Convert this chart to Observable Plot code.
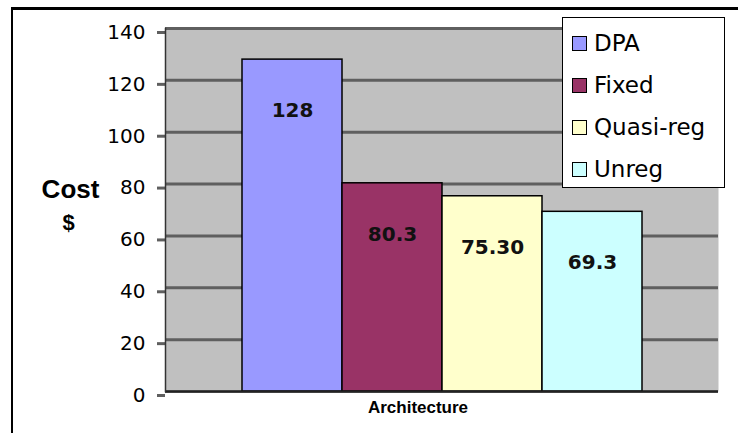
<!DOCTYPE html>
<html>
<head>
<meta charset="utf-8">
<script src="https://cdn.jsdelivr.net/npm/d3@7"></script>
<script src="https://cdn.jsdelivr.net/npm/@observablehq/plot@0.6"></script>
<style>
  html, body { margin: 0; padding: 0; background: #fff; }
  #wrap { position: relative; width: 738px; height: 436px; overflow: hidden; }
  #chart svg { display: block; }
  #legend { position: absolute; left: 562px; top: 17px; width: 163px; height: 171px;
            background: #fff; border: 1.5px solid #000; box-sizing: border-box;
            font-family: "DejaVu Sans", sans-serif; font-size: 23px; color: #000; }
  .item { position: absolute; left: 9px; display: flex; align-items: center; height: 30px; }
  .sw { width: 15px; height: 15px; border: 1.5px solid #000; margin-right: 7px; box-sizing: border-box; }
</style>
</head>
<body>
<div id="wrap">
  <div id="chart"></div>
  <div id="legend"></div>
</div>
<script>
// Cost per architecture
const series = ["DPA", "Fixed", "Quasi-reg", "Unreg"];
const costs = [128, 80.3, 75.30, 69.3];
const costLabels = ["128", "80.3", "75.30", "69.3"];
const palette = ["#9999ff", "#993366", "#ffffcc", "#ccffff"];
const yTicks = [0, 20, 40, 60, 80, 100, 120, 140];

const rows = series.map((s, i) => ({series: s, cost: costs[i], label: costLabels[i]}));

// outer chart-area border: heavy top edge, thin left edge
function chartBorder(index, scales, values, dims) {
  const g = d3.create("svg:g");
  g.append("line").attr("x1", 11).attr("x2", dims.width).attr("y1", 8.5).attr("y2", 8.5)
    .attr("stroke", "#000").attr("stroke-width", 3);
  g.append("line").attr("x1", 12).attr("x2", 12).attr("y1", 7).attr("y2", dims.height - 3)
    .attr("stroke", "#000").attr("stroke-width", 2);
  return g.node();
}

const chart = Plot.plot({
  width: 738,
  height: 436,
  marginTop: 28,
  marginBottom: 45,
  marginLeft: 165,
  marginRight: 20,
  style: {fontFamily: "DejaVu Sans, sans-serif", fontSize: "20px", background: "#fff", color: "#000"},
  x: {domain: series, paddingInner: 0, paddingOuter: 0.76, axis: null},
  y: {domain: [0, 140], axis: null},
  color: {domain: series, range: palette},
  marks: [
    chartBorder,
    Plot.frame({fill: "#c0c0c0"}),
    Plot.gridY(yTicks, {stroke: "#5f5f5f", strokeOpacity: 1, strokeWidth: 3}),
    Plot.axisY(yTicks, {tickSize: 8, tickPadding: 12, stroke: "#5f5f5f", strokeWidth: 3, fill: "#000", dy: 4, label: null}),
    Plot.barY(rows, {x: "series", y: "cost", fill: "series", stroke: "#000", strokeWidth: 1.5}),
    Plot.text(rows, {x: "series", y: "cost", text: "label", dy: 51, fontWeight: "bold", fontSize: 20, fill: "#111"}),
    Plot.ruleY([0], {stroke: "#222", strokeWidth: 2}),
    Plot.frame({anchor: "left", stroke: "#333", strokeWidth: 1.5}),
    Plot.text(["Cost"], {frameAnchor: "left", textAnchor: "middle", dx: -95, dy: -20, fontWeight: "bold", fontSize: 26, fontFamily: "Liberation Sans, Arial, sans-serif"}),
    Plot.text(["$"], {frameAnchor: "left", textAnchor: "middle", dx: -97, dy: 13, fontWeight: "bold", fontSize: 22, fontFamily: "Liberation Sans, Arial, sans-serif"}),
    Plot.text(["Architecture"], {frameAnchor: "bottom", dx: -24, dy: 21, fontWeight: "bold", fontSize: 17, fontFamily: "Liberation Sans, Arial, sans-serif", letterSpacing: 0.5})
  ]
});
document.getElementById("chart").appendChild(chart);

// Legend
const legend = document.getElementById("legend");
series.forEach((s, i) => {
  const item = document.createElement("div");
  item.className = "item";
  item.style.top = (10 + i * 42) + "px";
  const sw = document.createElement("span");
  sw.className = "sw";
  sw.style.background = palette[i];
  const t = document.createElement("span");
  t.textContent = s;
  item.appendChild(sw);
  item.appendChild(t);
  legend.appendChild(item);
});
</script>
</body>
</html>
